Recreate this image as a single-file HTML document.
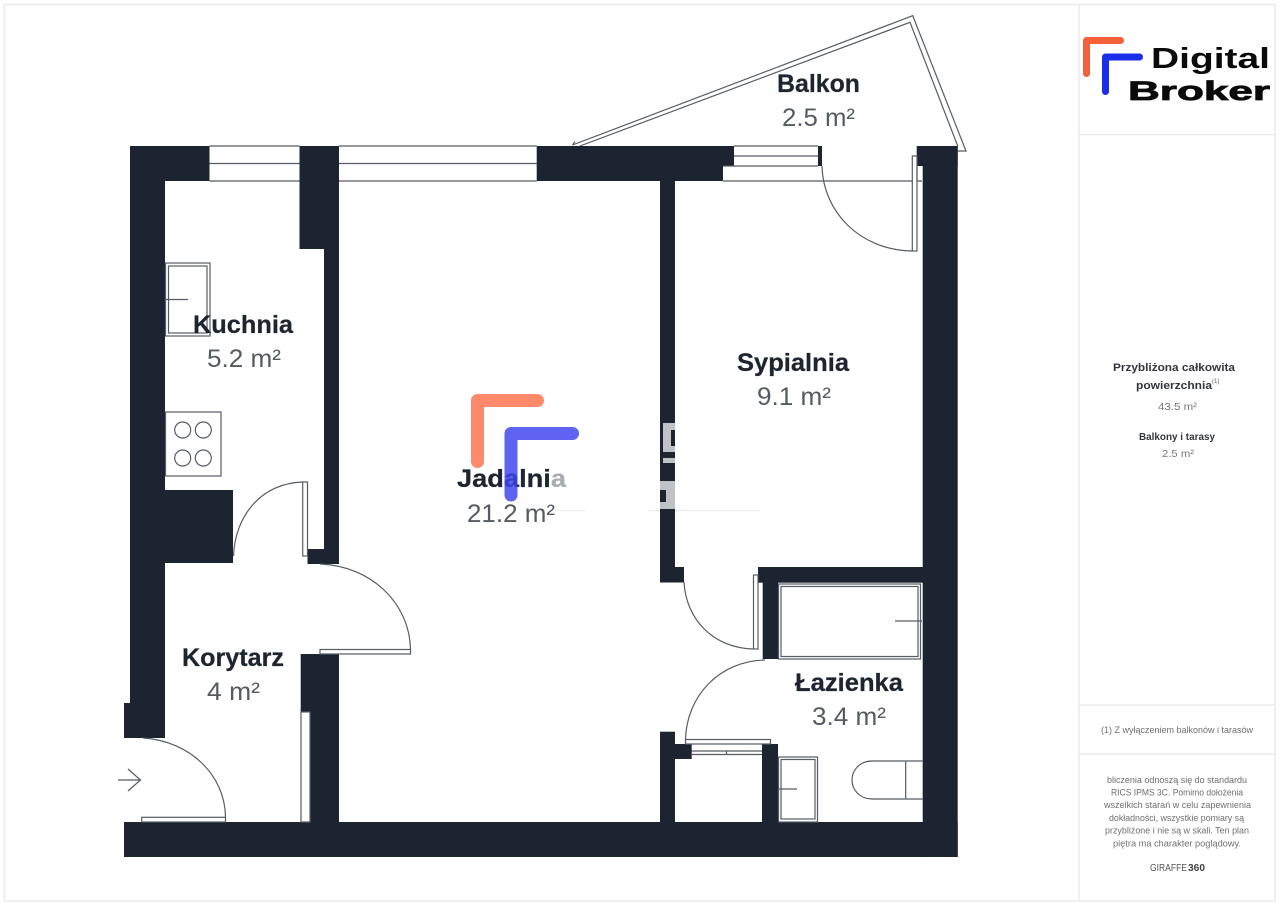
<!DOCTYPE html>
<html lang="pl"><head><meta charset="utf-8"><title>Plan piętra</title>
<style>
html,body{margin:0;padding:0;background:#fff}
svg{display:block}
text{font-family:"Liberation Sans",sans-serif}
.n{font-weight:700;font-size:25px;fill:#1d2530;stroke:#1d2530;stroke-width:.25}
.a{font-size:25px;fill:#555b63}
.l{fill:none;stroke:#565c64;stroke-width:1.2}
.d{fill:#fff;stroke:#565c64;stroke-width:1.2}
.p{font-size:9.5px;fill:#6f6f6f}
.h{font-weight:700;fill:#33363b}
.s{font-size:10.5px;fill:#777}
</style></head><body>
<svg width="1280" height="905" viewBox="0 0 1280 905" xmlns="http://www.w3.org/2000/svg">
<rect width="1280" height="905" fill="#fff"/>
<g fill="none" stroke="#ececec" stroke-width="1.5">
<rect x="4.5" y="4.5" width="1270.5" height="896.5"/>
<path d="M1079 4V901M1079 134.500H1275M1079 705H1275M1079 754H1275"/>
</g>

<!-- balcony -->
<path class="l" d="M572.500 145L912.700 15.700 966 151H957.700M580 146L910 22.300 957.700 146"/>
<path d="M572.500 145L575 141.500" class="l"/>

<!-- walls -->
<g fill="#1b2430">
<rect x="130" y="146" width="35" height="592"/>
<rect x="130" y="146" width="79.500" height="35"/>
<rect x="299.500" y="146" width="39.500" height="103"/>
<rect x="324" y="246" width="15" height="318"/>
<rect x="307.500" y="549" width="31.500" height="15"/>
<rect x="165" y="490" width="68" height="73"/>
<rect x="124" y="703" width="10" height="35"/>
<rect x="300.700" y="654" width="38.300" height="58"/>
<rect x="310" y="700" width="29" height="125"/>
<rect x="124" y="822" width="833.700" height="35"/>
<rect x="536.700" y="146" width="197.300" height="20.500"/>
<rect x="536.700" y="165" width="186.300" height="16"/>
<rect x="660" y="175" width="15" height="407"/>
<rect x="660" y="567" width="24" height="15.500"/>
<rect x="818" y="146" width="4" height="20"/>
<rect x="916.700" y="146" width="41" height="20"/>
<rect x="922.700" y="146" width="35" height="711"/>
<rect x="758" y="567" width="165" height="15.700"/>
<rect x="762.700" y="567" width="15.300" height="92"/>
<rect x="660" y="731.700" width="15" height="92"/>
<rect x="660" y="744" width="31.700" height="15"/>
<rect x="762" y="744" width="16" height="80"/>
</g>

<!-- windows -->
<path class="l" d="M209.500 146H299.500M209.500 163.500H299.500M209.500 181H299.500M339 146H536.700M339 163.500H536.700M339 181H536.700"/>
<path class="l" d="M734 146H818M734 156H818M734 166H818M723 181H922M723 166H734"/>
<path class="l" d="M691.700 751H762M691.700 754.500H762M726.500 751V754.500"/>

<!-- doors -->
<path class="l" d="M822 166C823 212 860 250 912 251"/>
<rect class="d" x="912.300" y="156" width="4.700" height="95"/>
<path class="l" d="M917 166V181" />
<path class="l" d="M233.500 556C235 515 262 483 303 482"/>
<rect class="d" x="302.700" y="482" width="4.800" height="74"/>
<path class="l" d="M320 564C372 566 410 604 410.500 650"/>
<rect class="d" x="320" y="649.500" width="90.500" height="4.500"/>
<path class="l" d="M143 738C190 741 225 775 225.500 817"/>
<rect class="d" x="141.700" y="817.300" width="83.800" height="4.700"/>
<path class="l" d="M118 780H140M128 769L140.500 780 128 791"/>
<rect class="d" x="301" y="712" width="9" height="110"/>
<path class="l" d="M684 582C686 620 714 648 753 649"/>
<rect class="d" x="753.500" y="575" width="4.500" height="74"/>
<path class="l" d="M765 660C720 661 687 695 685.500 739"/>
<rect class="d" x="685.500" y="739.500" width="85" height="4.500"/>

<!-- fixtures -->
<rect class="l" x="165.500" y="263" width="44.500" height="73"/>
<rect class="l" x="168.500" y="266" width="38.500" height="67"/>
<path class="l" d="M165 299.500H188"/>
<rect class="l" x="165.500" y="412" width="55.500" height="64"/>
<circle class="l" cx="182.700" cy="430" r="8"/><circle class="l" cx="203.300" cy="430" r="8"/>
<circle class="l" cx="182.700" cy="458" r="8"/><circle class="l" cx="203.300" cy="458" r="8"/>
<rect class="l" x="778.500" y="584" width="142" height="75"/>
<rect class="l" x="781" y="586.500" width="137" height="70"/>
<path class="l" d="M895 621H922"/>
<rect class="l" x="778.500" y="757" width="39" height="65"/>
<rect class="l" x="781" y="759.500" width="34" height="59.500"/>
<path class="l" d="M778 789H797"/>
<path class="l" d="M922.700 761H872C860 761 852 770 852 780C852 790 860 799 872 799H922.700M905.700 761V799"/>

<!-- watermark remnants -->
<path fill="#c0c3c6" d="M663 423H675V430H671V446H675V452H663ZM663 458H675V463H663ZM660 481H675V509H660V502H666V490H660Z"/>
<path stroke="#e4e4e4" stroke-width=".8" d="M555 510.500H585M648 510.500H660M675 510.500H760"/>

<!-- center logo + labels -->
<path fill="none" stroke="#ff8a6b" stroke-width="13" stroke-linecap="round" stroke-linejoin="round" d="M477.500 461.500V400.500H537.500"/>
<text class="n" x="457" y="487" textLength="109" lengthAdjust="spacingAndGlyphs">Jadalnia</text>
<path fill="none" stroke="#3d45ee" stroke-opacity=".83" stroke-width="13" stroke-linecap="round" stroke-linejoin="round" d="M511 495V433.500H572.500"/>
<rect x="549" y="468" width="18" height="20" fill="#fff" opacity=".62"/>
<text class="a" x="467" y="522" textLength="88" lengthAdjust="spacingAndGlyphs">21.2 m²</text>

<text class="n" x="193" y="333" textLength="100" lengthAdjust="spacingAndGlyphs">Kuchnia</text>
<text class="a" x="207" y="367" textLength="74" lengthAdjust="spacingAndGlyphs">5.2 m²</text>
<text class="n" x="737" y="371" textLength="112" lengthAdjust="spacingAndGlyphs">Sypialnia</text>
<text class="a" x="757" y="405" textLength="74" lengthAdjust="spacingAndGlyphs">9.1 m²</text>
<text class="n" x="777" y="92" textLength="83" lengthAdjust="spacingAndGlyphs">Balkon</text>
<text class="a" x="782" y="126" textLength="73" lengthAdjust="spacingAndGlyphs">2.5 m²</text>
<text class="n" x="182" y="666" textLength="102" lengthAdjust="spacingAndGlyphs">Korytarz</text>
<text class="a" x="207" y="700" textLength="53" lengthAdjust="spacingAndGlyphs">4 m²</text>
<text class="n" x="795" y="691" textLength="108" lengthAdjust="spacingAndGlyphs">Łazienka</text>
<text class="a" x="812" y="725" textLength="74" lengthAdjust="spacingAndGlyphs">3.4 m²</text>

<!-- brand logo -->
<path fill="none" stroke="#f4603a" stroke-width="7" stroke-linecap="round" stroke-linejoin="round" d="M1086.500 73.500V40.500H1120.500"/>
<path fill="none" stroke="#1a2fe8" stroke-width="7" stroke-linecap="round" stroke-linejoin="round" d="M1105.500 91.500V57H1139.500"/>
<text x="1151" y="68" font-size="29" font-weight="700" fill="#0a0a0a" textLength="119" lengthAdjust="spacingAndGlyphs">Digital</text>
<text x="1128" y="100" font-size="27" font-weight="700" fill="#0a0a0a" stroke="#0a0a0a" stroke-width=".8" textLength="142" lengthAdjust="spacingAndGlyphs">Broker</text>

<!-- side panel -->
<text class="h" font-size="11" x="1113" y="371" textLength="122" lengthAdjust="spacingAndGlyphs">Przybliżona całkowita</text>
<text class="h" font-size="11" x="1136" y="389" textLength="76" lengthAdjust="spacingAndGlyphs">powierzchnia</text>
<text x="1212" y="383" font-size="6" fill="#666">(1)</text>
<text class="s" x="1158" y="410" textLength="39" lengthAdjust="spacingAndGlyphs">43.5 m²</text>
<text class="h" font-size="10" x="1139" y="440" textLength="76" lengthAdjust="spacingAndGlyphs">Balkony i tarasy</text>
<text class="s" x="1162" y="457" textLength="32" lengthAdjust="spacingAndGlyphs">2.5 m²</text>
<text class="p" x="1101" y="733" textLength="152" lengthAdjust="spacingAndGlyphs">(1) Z wyłączeniem balkonów i tarasów</text>
<text class="p" x="1107" y="783" textLength="140" lengthAdjust="spacingAndGlyphs">bliczenia odnoszą się do standardu</text>
<text class="p" x="1111" y="795.500" textLength="132" lengthAdjust="spacingAndGlyphs">RICS IPMS 3C. Pomimo dołożenia</text>
<text class="p" x="1104" y="808" textLength="147" lengthAdjust="spacingAndGlyphs">wszelkich starań w celu zapewnienia</text>
<text class="p" x="1109" y="821" textLength="135" lengthAdjust="spacingAndGlyphs">dokładności, wszystkie pomiary są</text>
<text class="p" x="1105" y="833.500" textLength="144" lengthAdjust="spacingAndGlyphs">przybliżone i nie są w skali. Ten plan</text>
<text class="p" x="1113" y="846.500" textLength="128" lengthAdjust="spacingAndGlyphs">piętra ma charakter poglądowy.</text>
<text x="1150" y="871" font-size="10.500" fill="#555" textLength="37" lengthAdjust="spacingAndGlyphs">GIRAFFE</text>
<text x="1188" y="871" font-size="10.500" font-weight="700" fill="#444" textLength="17" lengthAdjust="spacingAndGlyphs">360</text>
</svg>
</body></html>
